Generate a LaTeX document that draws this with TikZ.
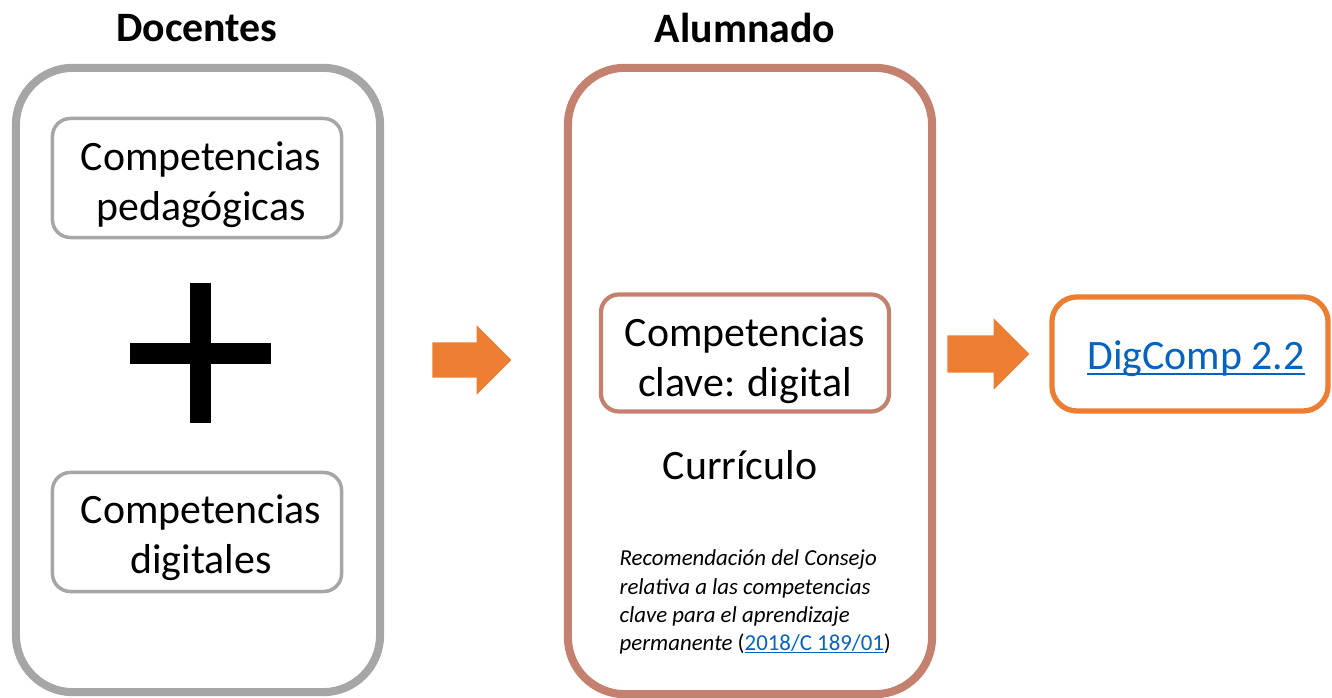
\documentclass[tikz,border=0pt]{standalone}
\usepackage{fontspec}
\setmainfont{Carlito}
\usetikzlibrary{shapes.arrows, positioning}
\definecolor{boxgray}{RGB}{166,166,166}
\definecolor{alubrown}{RGB}{196,129,112}
\definecolor{digorange}{RGB}{237,125,49}
\definecolor{linkblue}{RGB}{5,99,193}
\newcommand{\weblink}[1]{{\color{linkblue}\setbox0\hbox{#1}%
  \rlap{\rule[-0.13em]{\wd0}{0.055em}}\box0}}

\begin{document}
\begin{tikzpicture}[
    x=0.01cm, y=-0.01cm,
    bigbox/.style={draw,rounded corners=0.57cm,line width=2.3pt,
                   minimum width=3.64cm,inner sep=0pt},
    smallbox/.style={draw,rounded corners=0.18cm,line width=1pt,
                     inner sep=0pt,minimum width=2.89cm,minimum height=1.19cm},
    title/.style={font=\fontsize{11.9}{14.3}\selectfont\bfseries},
    txt/.style={font=\fontsize{11.9}{14.3}\selectfont,align=center,inner sep=0pt},
    note/.style={font=\fontsize{6.5}{8}\selectfont\itshape,align=left,inner sep=0pt},
    arr/.style={single arrow,fill=digorange,inner sep=0pt,inner ysep=0.17cm,
                minimum height=0.79cm,single arrow head extend=0.17cm}
]
  \useasboundingbox (0,0) rectangle (1332,698);

  % Docentes
  \node[title] (doctit) at (197,28) {Docentes};
  \node[bigbox,draw=boxgray,minimum height=6.24cm] (docbox) at (198,380) {};
  \node[smallbox,draw=boxgray] (pedbox) at (197,178) {};
  \node[txt] (pedtxt) at ([xshift=0.04cm,yshift=-0.065cm]pedbox.center) {Competencias\\pedagógicas};
  \node[smallbox,draw=boxgray] (digbox) at (197,532) {};
  \node[txt] (digtxt) at ([xshift=0.04cm,yshift=-0.055cm]digbox.center) {Competencias\\digitales};
  \coordinate (plus) at (200,353);
  \fill (130,343) rectangle (271,364);
  \fill (190,283) rectangle (211,423);

  % Alumnado
  \node[title] (alutit) at (745,28) {Alumnado};
  \node[bigbox,draw=alubrown,minimum height=6.26cm] (alubox) at (750,381) {};
  \node[smallbox,draw=alubrown,line width=1.2pt,minimum width=2.88cm,
        minimum height=1.17cm] (clavebox) at (745,353) {};
  \node[txt] (clavetxt) at ([yshift=-0.08cm]clavebox.center) {Competencias\\clave: digital};
  \node[txt] (curric) at (740,465) {Currículo};
  \node[note,anchor=west] (recom) at (619,602)
    {Recomendación del Consejo\\relativa a las competencias\\clave para el aprendizaje\\permanente\/ {\upshape(\weblink{2018/C 189/01})}};

  % DigComp
  \node[smallbox,draw=digorange,line width=1.5pt,rounded corners=0.25cm,
        minimum width=2.76cm,minimum height=1.14cm] (digcomp) at (1190,354) {};
  \node[txt] (digcomptxt) at ([xshift=0.06cm,yshift=-0.05cm]digcomp.center) {\weblink{DigComp 2.2}};

  % Arrows
  \node[arr] (arr1) at (463,360) {};
  \node[arr,inner ysep=0.18cm,minimum height=0.82cm] (arr2) at (979,354) {};
\end{tikzpicture}
\end{document}
